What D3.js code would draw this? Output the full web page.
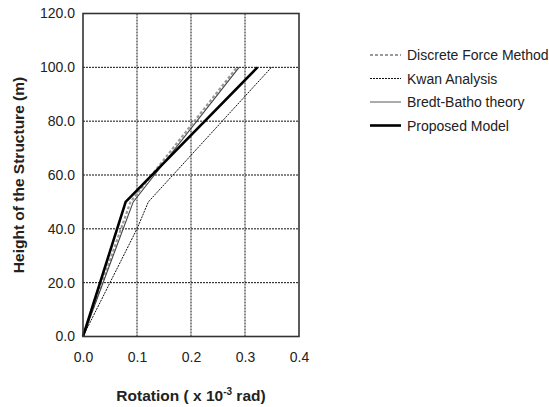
<!DOCTYPE html>
<html>
<head>
<meta charset="utf-8">
<script src="https://cdnjs.cloudflare.com/ajax/libs/d3/7.8.5/d3.min.js"></script>
<style>
body { margin: 0; background: #fff; }
text { font-family: "Liberation Sans", Arial, sans-serif; fill: #222; }
</style>
</head>
<body>
<svg width="549" height="407"></svg>
<script>
// heights (m) and rotations (x 10^-3 rad)
var dfmH = [0, 50, 100];
var dfmR = [0, 0.088, 0.285];
var kwanH = [0, 40, 50, 100];
var kwanR = [0, 0.100, 0.121, 0.349];
var bredtH = [0, 50, 100];
var bredtR = [0, 0.093, 0.289];
var propH = [0, 50, 100];
var propR = [0, 0.079, 0.323];

var xTicks = [0, 0.1, 0.2, 0.3, 0.4];
var yTicks = [0, 20, 40, 60, 80, 100, 120];
var names = ["Discrete Force Method", "Kwan Analysis", "Bredt-Batho theory", "Proposed Model"];

var svg = d3.select("svg");
var pLeft = 83, pRight = 299, pTop = 13.5, pBottom = 336.5;

var x = d3.scaleLinear().domain([0, 0.4]).range([pLeft, pRight]);
var y = d3.scaleLinear().domain([0, 120]).range([pBottom, pTop]);

// grid
var g = svg.append("g");
g.selectAll(".vg").data(xTicks.slice(1, -1)).enter().append("line")
	.attr("x1", d => x(d)).attr("x2", d => x(d))
	.attr("y1", pTop).attr("y2", pBottom)
	.attr("stroke", "#111").attr("stroke-width", 1).attr("stroke-dasharray", "2,1");
g.selectAll(".hg").data(yTicks.slice(1, -1)).enter().append("line")
	.attr("x1", pLeft).attr("x2", pRight)
	.attr("y1", d => y(d)).attr("y2", d => y(d))
	.attr("stroke", "#111").attr("stroke-width", 1).attr("stroke-dasharray", "2,1");

// axes with labels only
var xAxis = d3.axisBottom(x).tickValues(xTicks).tickFormat(d3.format(".1f")).tickSize(0).tickPadding(16);
var yAxis = d3.axisLeft(y).tickValues(yTicks).tickFormat(d3.format(".1f")).tickSize(0).tickPadding(8);
var xa = svg.append("g").attr("transform", "translate(0," + pBottom + ")").call(xAxis);
var ya = svg.append("g").attr("transform", "translate(" + pLeft + ",0)").call(yAxis);
[xa, ya].forEach(function(a) {
	a.select(".domain").remove();
	a.selectAll("text").attr("font-size", 14).attr("font-family", "Liberation Sans, Arial, sans-serif").attr("fill", "#222");
});

// series
var series = [
	{ h: dfmH, r: dfmR, color: "#999", w: 2.2, dash: "3,2" },
	{ h: kwanH, r: kwanR, color: "#111", w: 1, dash: "2,1" },
	{ h: bredtH, r: bredtR, color: "#444", w: 1.1, dash: null },
	{ h: propH, r: propR, color: "#000", w: 2.6, dash: null }
];
var line = d3.line().x(d => x(d[0])).y(d => y(d[1]));
series.forEach(function(s) {
	var pts = s.r.map(function(v, i) { return [v, s.h[i]]; });
	svg.append("path").attr("d", line(pts))
		.attr("fill", "none").attr("stroke", s.color).attr("stroke-width", s.w)
		.attr("stroke-dasharray", s.dash);
});

// frame
svg.append("rect").attr("x", pLeft).attr("y", pTop)
	.attr("width", pRight - pLeft).attr("height", pBottom - pTop)
	.attr("fill", "none").attr("stroke", "#333").attr("stroke-width", 1.6);

// legend
var leg = svg.append("g").attr("transform", "translate(370,55)");
names.forEach(function(n, i) {
	var s = series[i];
	var yy = i * 23.5;
	leg.append("line").attr("x1", 0).attr("x2", 31).attr("y1", yy).attr("y2", yy)
		.attr("stroke", i == 2 ? "#666" : s.color).attr("stroke-width", s.w).attr("stroke-dasharray", s.dash);
	leg.append("text").attr("x", 37).attr("y", yy + 5).attr("font-size", 14).text(n);
});

// axis titles
var xt = svg.append("text").attr("x", (pLeft + pRight) / 2).attr("y", 401)
	.attr("text-anchor", "middle").attr("font-size", 15.5).attr("font-weight", "bold");
xt.append("tspan").text("Rotation ( x 10");
xt.append("tspan").attr("dy", -6).attr("font-size", 10).text("-3");
xt.append("tspan").attr("dy", 6).text(" rad)");

svg.append("text").attr("transform", "translate(24," + ((pTop + pBottom) / 2) + ") rotate(-90)")
	.attr("text-anchor", "middle").attr("font-size", 15.5).attr("font-weight", "bold")
	.text("Height of the Structure (m)");
</script>
</body>
</html>
